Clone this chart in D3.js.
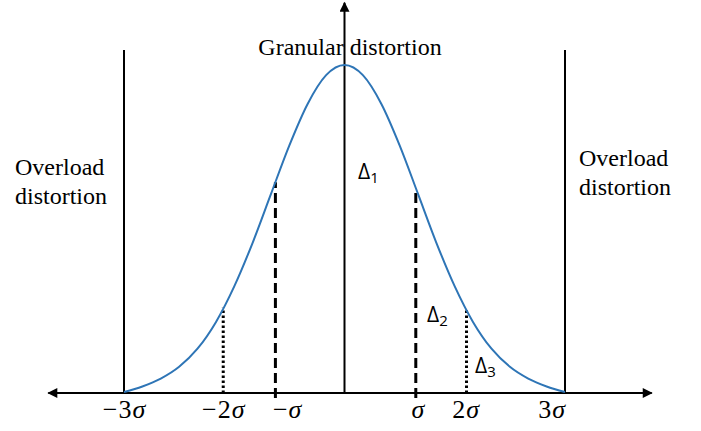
<!DOCTYPE html>
<html>
<head>
<meta charset="utf-8">
<script src="https://cdn.jsdelivr.net/npm/d3@7"></script>
<style>
  body { margin: 0; background: #fff; }
  svg { display: block; }
</style>
</head>
<body>
<svg id="chart"></svg>
<script>
var w = 701;
var h = 431;

// curve, x in sigma units, y relative to the peak
var curveX = [-3, -2.75, -2.5, -2.25, -2, -1.75, -1.5, -1.25, -1, -0.75, -0.5, -0.25, 0,
  0.25, 0.5, 0.75, 1, 1.25, 1.5, 1.75, 2, 2.25, 2.5, 2.75, 3];
var curveY = [0.003, 0.02, 0.044, 0.08, 0.135, 0.216, 0.325, 0.458, 0.607, 0.755, 0.882, 0.969, 1,
  0.969, 0.882, 0.755, 0.607, 0.458, 0.325, 0.216, 0.135, 0.08, 0.044, 0.02, 0.003];

var dashedX = [-0.94, 0.97];
var dottedX = [-1.65, 1.66];
var limitX = [-3, 3];

var tickValues = [-3, -1.65, -0.78, 1.0, 1.65, 2.82];
var tickNums = ['\u22123', '\u22122', '\u2212', '', '2', '3'];

var axisExtent = [-4.03, 4.18];
var limitTop = 1.046;
var yAxisTop = 1.19;

var x = d3.scaleLinear().domain([-3, 3]).range([124, 565]);
var y = d3.scaleLinear().domain([0, 1]).range([393, 65]);

var pdf = curveX.map(function (d, i) { return [d, curveY[i]]; });

var svg = d3.select('#chart').attr('width', w).attr('height', h);

var defs = svg.append('defs');
defs.append('marker')
  .attr('id', 'arrow')
  .attr('viewBox', '0 0 10 10')
  .attr('refX', 9).attr('refY', 5)
  .attr('markerWidth', 5.5).attr('markerHeight', 5)
  .attr('markerUnits', 'strokeWidth')
  .attr('orient', 'auto-start-reverse')
  .append('path')
  .attr('d', 'M0,0 L10,5 L0,10 Z')
  .attr('fill', '#000');

// x axis line with arrows at both ends
svg.append('line')
  .attr('x1', x(axisExtent[0])).attr('x2', x(axisExtent[1]))
  .attr('y1', y(0)).attr('y2', y(0))
  .attr('stroke', '#000').attr('stroke-width', 2)
  .attr('marker-start', 'url(#arrow)')
  .attr('marker-end', 'url(#arrow)');

// y axis
svg.append('line')
  .attr('x1', x(0)).attr('x2', x(0))
  .attr('y1', y(0)).attr('y2', y(yAxisTop))
  .attr('stroke', '#000').attr('stroke-width', 2)
  .attr('marker-end', 'url(#arrow)');

// +-3 sigma limits
svg.selectAll('line.limit')
  .data(limitX)
  .enter()
  .append('line')
  .attr('class', 'limit')
  .attr('x1', function (d) { return x(d); })
  .attr('x2', function (d) { return x(d); })
  .attr('y1', y(0))
  .attr('y2', y(limitTop))
  .attr('stroke', '#000').attr('stroke-width', 2);

var line = d3.line()
  .x(function (d) { return x(d[0]); })
  .y(function (d) { return y(d[1]); })
  .curve(d3.curveMonotoneX);

var interp = function (v) {
  var i = d3.bisectLeft(curveX, v);
  if (i <= 0) return curveY[0];
  var t = (v - curveX[i - 1]) / (curveX[i] - curveX[i - 1]);
  return curveY[i - 1] + t * (curveY[i] - curveY[i - 1]);
};

svg.selectAll('line.dashed')
  .data(dashedX)
  .enter()
  .append('line')
  .attr('class', 'dashed')
  .attr('x1', function (d) { return x(d); })
  .attr('x2', function (d) { return x(d); })
  .attr('y1', y(0) + 5)
  .attr('y2', function (d) { return y(interp(d)); })
  .attr('stroke', '#000').attr('stroke-width', 3)
  .attr('stroke-dasharray', '10,5');

svg.selectAll('line.dotted')
  .data(dottedX)
  .enter()
  .append('line')
  .attr('class', 'dotted')
  .attr('x1', function (d) { return x(d); })
  .attr('x2', function (d) { return x(d); })
  .attr('y1', y(0))
  .attr('y2', function (d) { return y(interp(d)); })
  .attr('stroke', '#000').attr('stroke-width', 3)
  .attr('stroke-dasharray', '2.5,2.5');

svg.append('path')
  .datum(pdf)
  .attr('d', line)
  .attr('fill', 'none')
  .attr('stroke', '#2e75b6')
  .attr('stroke-width', 2);

// tick labels
var axis = d3.axisBottom(x)
  .tickValues(tickValues)
  .tickSize(0)
  .tickPadding(0)
  .tickFormat('');

var gx = svg.append('g')
  .attr('transform', 'translate(0,' + y(0) + ')')
  .call(axis);
gx.select('.domain').remove();
gx.selectAll('.tick text')
  .attr('y', 25)
  .attr('dy', 0)
  .style('font-family', '"Liberation Serif", serif')
  .style('font-size', '26px')
  .style('letter-spacing', '1px')
  .attr('fill', '#000')
  .each(function (d, i) {
    var t = d3.select(this);
    t.append('tspan').text(tickNums[i]);
    t.append('tspan').style('font-style', 'italic').text('\u03c3');
  });

var serif = '"Liberation Serif", "Times New Roman", serif';

svg.append('text')
  .attr('x', 350).attr('y', 55)
  .attr('text-anchor', 'middle')
  .style('font-family', serif).style('font-size', '24px')
  .text('Granular distortion');

var overload = [
  {x: 15, y: 175, t: 'Overload'},
  {x: 15, y: 204, t: 'distortion'},
  {x: 579, y: 166, t: 'Overload'},
  {x: 579, y: 195, t: 'distortion'}
];
svg.selectAll('text.over')
  .data(overload)
  .enter()
  .append('text')
  .attr('class', 'over')
  .attr('x', function (d) { return d.x; })
  .attr('y', function (d) { return d.y; })
  .style('font-family', serif).style('font-size', '24px')
  .text(function (d) { return d.t; });

var deltas = [
  {x: 358, y: 179, s: '1'},
  {x: 427, y: 322, s: '2'},
  {x: 475, y: 373, s: '3'}
];
var dt = svg.selectAll('text.delta')
  .data(deltas)
  .enter()
  .append('text')
  .attr('class', 'delta')
  .attr('x', function (d) { return d.x; })
  .attr('y', function (d) { return d.y; })
  .style('font-family', '"Open Sans", sans-serif')
  .style('font-size', '21px');
dt.append('tspan').text('\u0394');
dt.append('tspan')
  .attr('dy', 4)
  .style('font-size', '15px')
  .text(function (d) { return d.s; });
</script>
</body>
</html>
